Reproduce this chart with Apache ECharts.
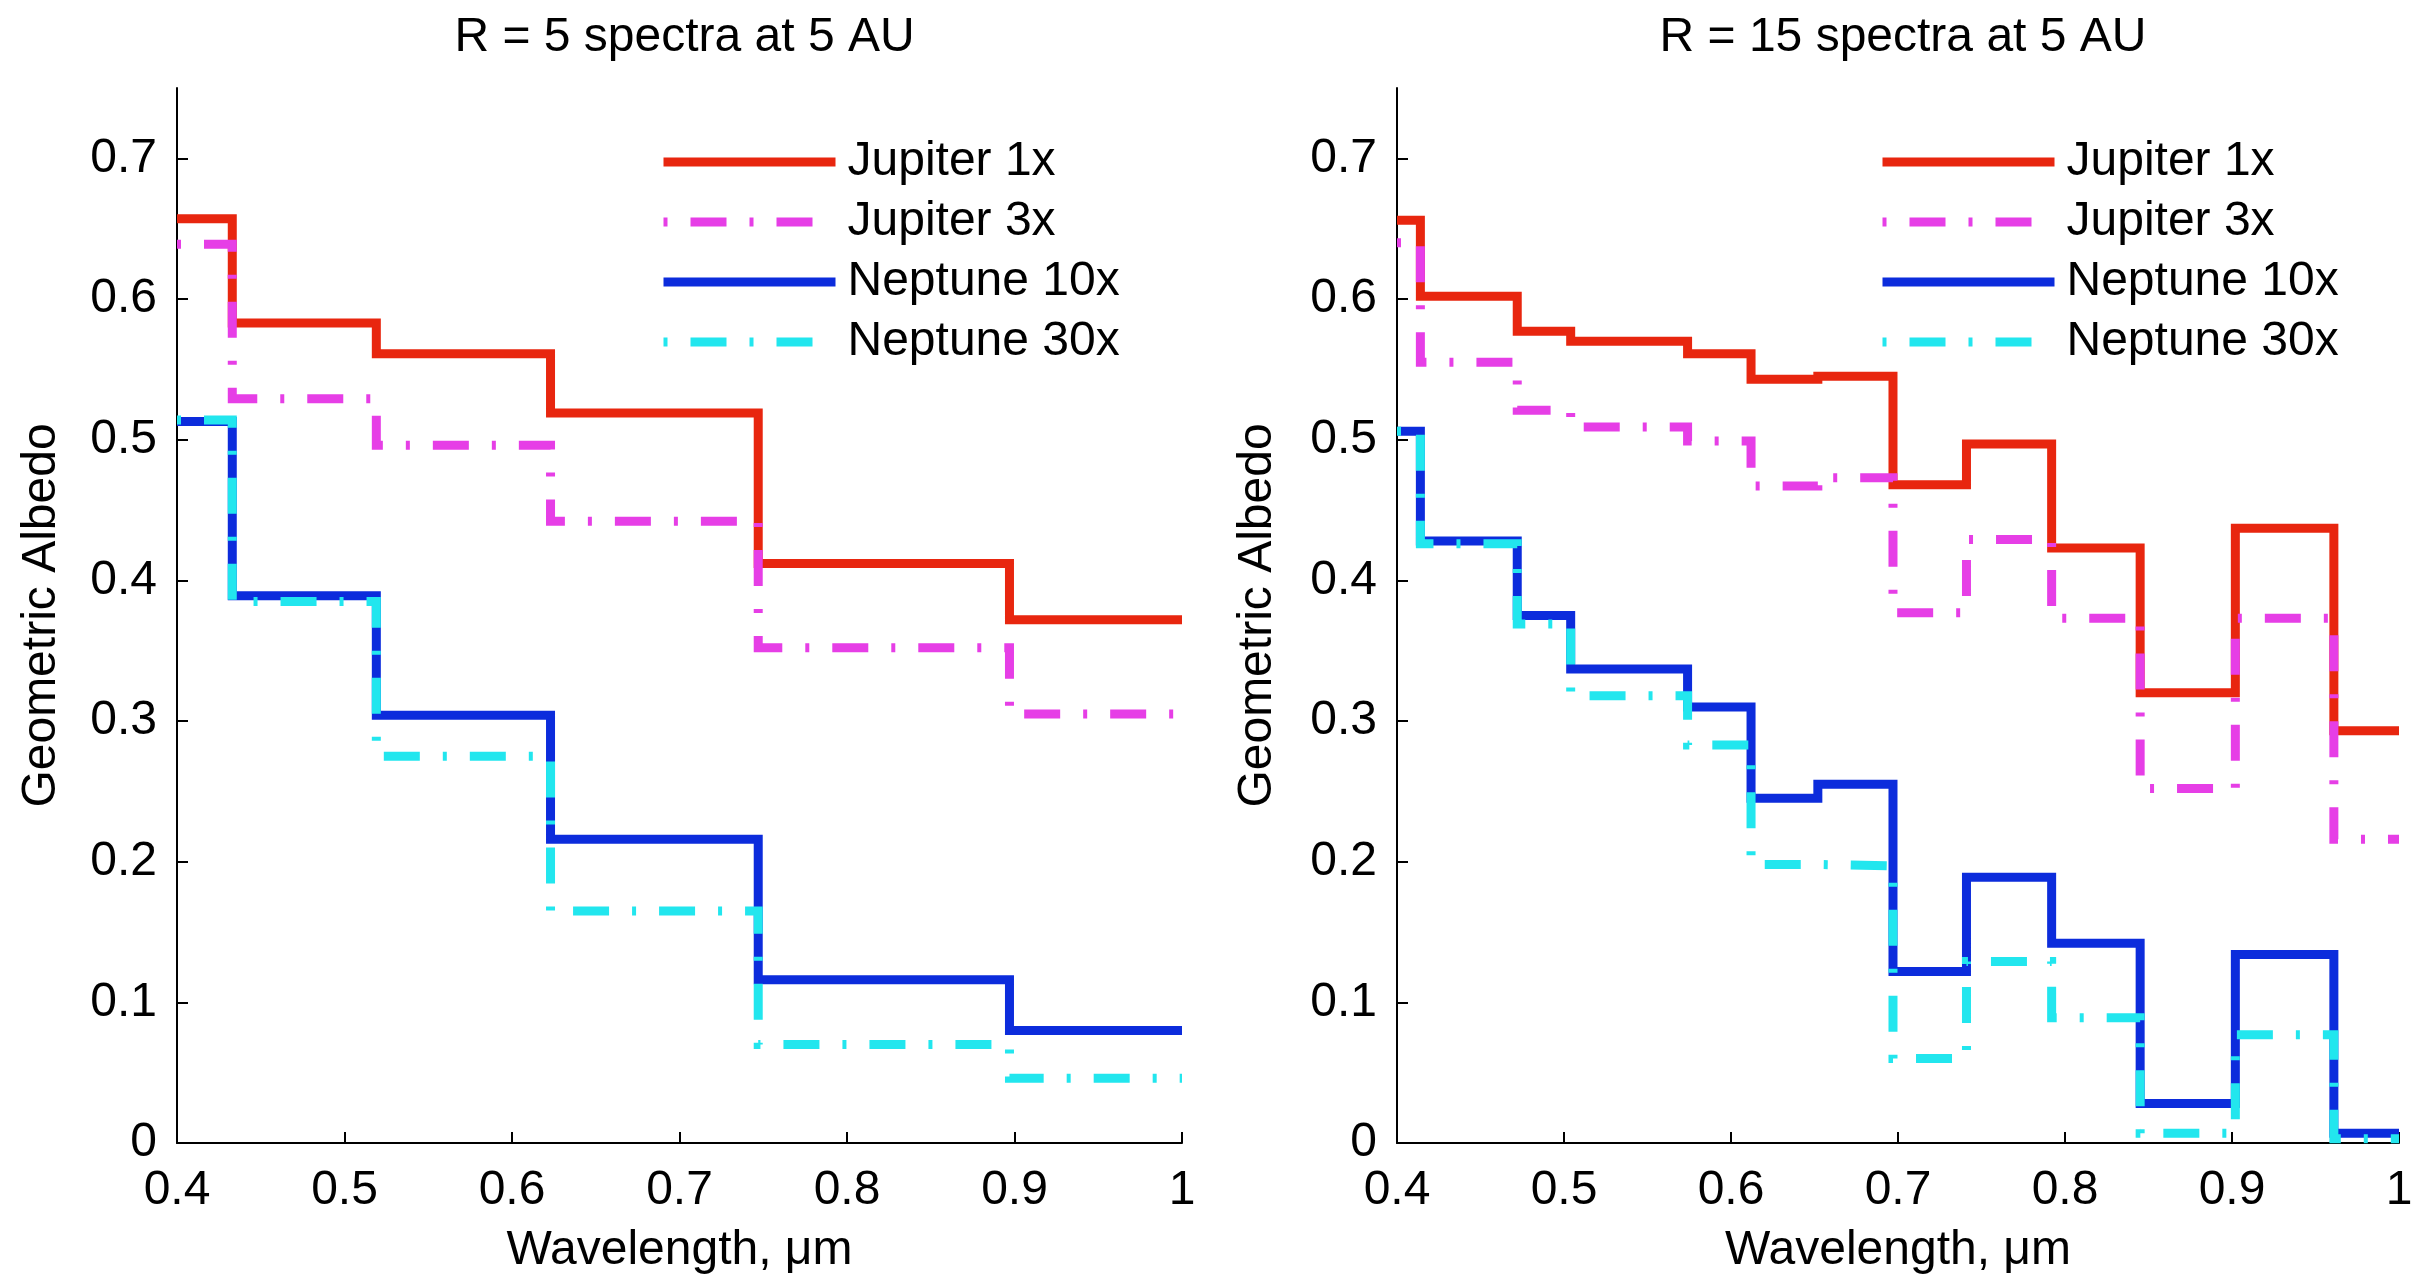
<!DOCTYPE html>
<html>
<head>
<meta charset="utf-8">
<title>Geometric albedo spectra at 5 AU</title>
<script src="https://cdn.jsdelivr.net/npm/echarts@6/dist/echarts.min.js"></script>
<style>
  html, body { margin: 0; padding: 0; background: #fff; }
  #chart { width: 2421px; height: 1276px; }
</style>
</head>
<body>
<div id="chart"></div>
<script>
// Spectral bin edges (µm) and binned geometric albedo per bin
const r5Edges = [0.4, 0.433, 0.519, 0.623, 0.747, 0.897, 1.0];
const r5Jupiter1x  = [0.657, 0.583, 0.561, 0.519, 0.412, 0.372];
const r5Jupiter3x  = [0.639, 0.529, 0.496, 0.442, 0.352, 0.305];
const r5Neptune10x = [0.513, 0.389, 0.304, 0.216, 0.116, 0.080];
const r5Neptune30x = [0.514, 0.385, 0.275, 0.165, 0.070, 0.046];

const r15Edges = [0.4, 0.414, 0.472, 0.504, 0.574, 0.612, 0.652, 0.697, 0.741, 0.792, 0.845, 0.902, 0.961, 1.0];
const r15Jupiter1x  = [0.656, 0.602, 0.577, 0.570, 0.561, 0.543, 0.545, 0.468, 0.497, 0.423, 0.320, 0.437, 0.293];
const r15Jupiter3x  = [0.640, 0.555, 0.521, 0.509, 0.499, 0.467, 0.473, 0.377, 0.429, 0.373, 0.252, 0.373, 0.216];
const r15Neptune10x = [0.506, 0.428, 0.375, 0.337, 0.310, 0.245, 0.255, 0.122, 0.189, 0.142, 0.028, 0.134, 0.007];
const r15Neptune30x = [0.506, 0.426, 0.369, 0.318, 0.283, 0.198, 0.197, 0.060, 0.129, 0.089, 0.007, 0.077, 0.003];

const seriesNames = ['Jupiter 1x', 'Jupiter 3x', 'Neptune 10x', 'Neptune 30x'];
const panelTitles = ['R = 5 spectra at 5 AU', 'R = 15 spectra at 5 AU'];
const xTicks = [0.4, 0.5, 0.6, 0.7, 0.8, 0.9, 1.0];
const yTicks = [0, 0.1, 0.2, 0.3, 0.4, 0.5, 0.6, 0.7];

const FONT = "'Liberation Sans', Arial, Helvetica, sans-serif";
const colors = ['#e8260f', '#e63ee6', '#0c2cdc', '#22e6ee'];
const dashDot = [36, 23, 4, 23];
const styles = [
  { type: 'solid' },
  { type: dashDot, dashOffset: 59 },
  { type: 'solid' },
  { type: dashDot, dashOffset: 59 }
];
const LINE_W = 9;

// Turn bin edges + per-bin values into step-line points
function stepPoints(edges, vals) {
  const pts = vals.map((v, i) => [edges[i], v]);
  pts.push([edges[edges.length - 1], vals[vals.length - 1]]);
  return pts;
}

const panels = [
  { edges: r5Edges, sets: [r5Jupiter1x, r5Jupiter3x, r5Neptune10x, r5Neptune30x],
    grid: { left: 177, top: 88, width: 1005, height: 1055 }, legendLeft: 659, nameGap: 111 },
  { edges: r15Edges, sets: [r15Jupiter1x, r15Jupiter3x, r15Neptune10x, r15Neptune30x],
    grid: { left: 1397, top: 88, width: 1002, height: 1055 }, legendLeft: 1878, nameGap: 115 }
];

const fmt = v => String(parseFloat(Number(v).toFixed(2)));

const option = {
  backgroundColor: '#ffffff',
  animation: false,
  textStyle: { fontFamily: FONT },
  title: panels.map((p, i) => ({
    text: panelTitles[i],
    left: p.grid.left + p.grid.width / 2,
    top: 9,
    textAlign: 'center',
    textStyle: { fontFamily: FONT, fontSize: 48, fontWeight: 'normal', color: '#000' }
  })),
  grid: panels.map(p => Object.assign({ containLabel: false, outerBoundsMode: 'none' }, p.grid)),
  legend: panels.map((p, i) => ({
    orient: 'vertical',
    left: p.legendLeft,
    top: 138,
    padding: 0,
    itemGap: 12,
    itemWidth: 172,
    itemHeight: 12,
    data: seriesNames,
    selectedMode: false,
    itemStyle: { opacity: 0 },
    lineStyle: { width: LINE_W, cap: 'butt' },
    textStyle: { fontFamily: FONT, fontSize: 48, lineHeight: 48, color: '#000', padding: [0, 0, 0, 7] }
  })),
  xAxis: panels.map((p, i) => ({
    type: 'value',
    gridIndex: i,
    min: 0.4, max: 1.0, interval: 0.1,
    name: 'Wavelength, μm',
    nameLocation: 'middle',
    nameGap: 84,
    nameTextStyle: { fontFamily: FONT, fontSize: 48, color: '#000' },
    splitLine: { show: false },
    axisLine: { show: true, onZero: false, lineStyle: { color: '#000', width: 2 } },
    axisTick: { show: true, inside: true, length: 11, lineStyle: { color: '#000', width: 2 }, customValues: xTicks },
    axisLabel: { margin: 24, fontFamily: FONT, fontSize: 48, color: '#000', formatter: fmt, customValues: xTicks }
  })),
  yAxis: panels.map((p, i) => ({
    type: 'value',
    gridIndex: i,
    min: 0, max: 0.75, interval: 0.1,
    name: 'Geometric Albedo',
    nameLocation: 'middle',
    nameGap: p.nameGap,
    nameTextStyle: { fontFamily: FONT, fontSize: 48, color: '#000' },
    splitLine: { show: false },
    axisLine: { show: true, onZero: false, lineStyle: { color: '#000', width: 2 } },
    axisTick: { show: true, inside: true, length: 11, lineStyle: { color: '#000', width: 2 }, customValues: yTicks },
    axisLabel: { margin: 20, fontFamily: FONT, fontSize: 48, color: '#000', formatter: fmt, customValues: yTicks }
  })),
  series: []
};

panels.forEach((p, pi) => {
  p.sets.forEach((vals, si) => {
    option.series.push({
      type: 'line',
      name: seriesNames[si],
      xAxisIndex: pi,
      yAxisIndex: pi,
      step: 'end',
      symbol: 'none',
      showSymbol: false,
      clip: false,
      silent: true,
      color: colors[si],
      lineStyle: Object.assign({ color: colors[si], width: LINE_W, cap: 'butt', join: 'miter' }, styles[si]),
      data: stepPoints(p.edges, vals)
    });
  });
});

const chart = echarts.init(document.getElementById('chart'), null, { renderer: 'canvas' });
chart.setOption(option);
</script>
</body>
</html>
